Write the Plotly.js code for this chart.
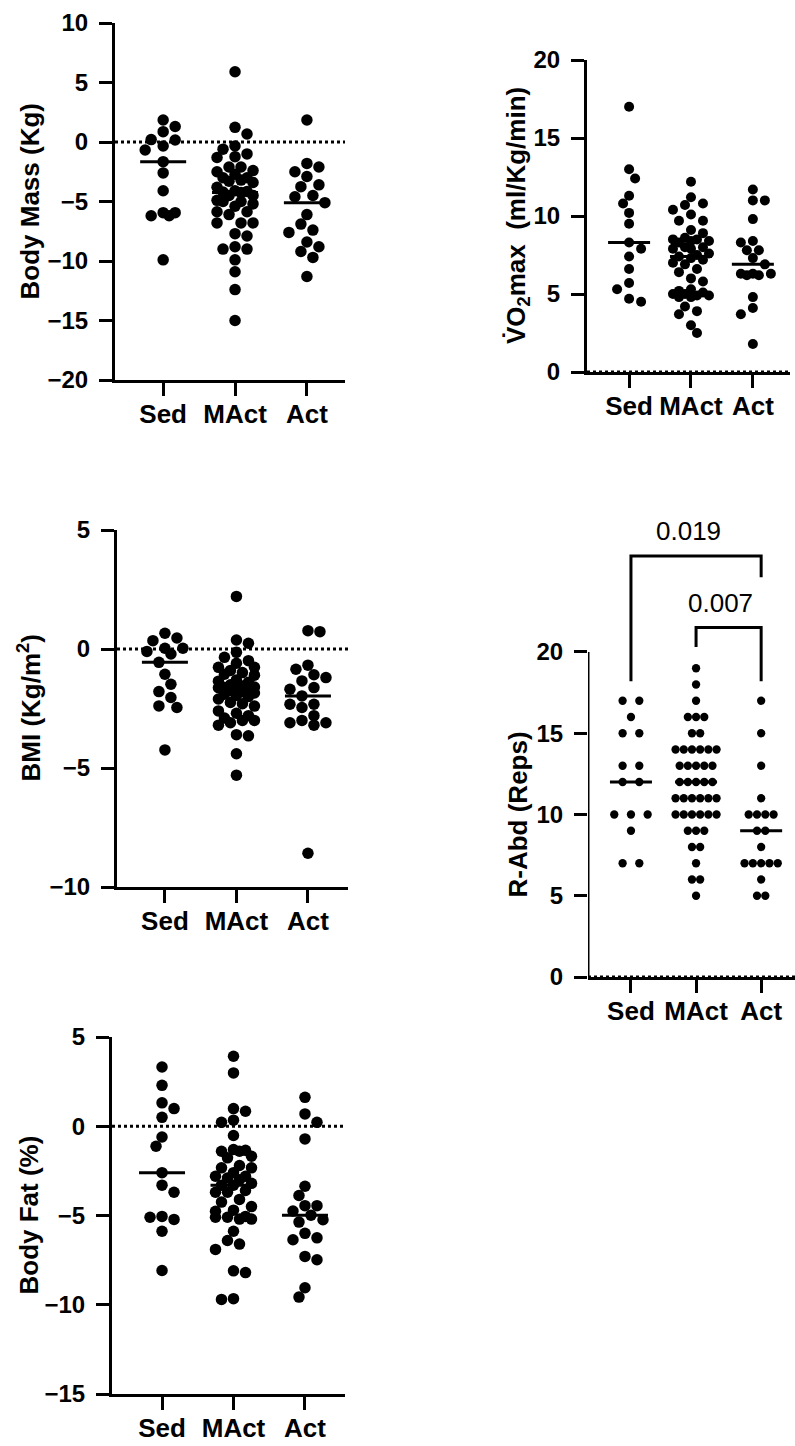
<!DOCTYPE html>
<html><head><meta charset="utf-8">
<script src="https://cdn.plot.ly/plotly-3.0.1.min.js"></script>
<style>html,body{margin:0;padding:0;background:#fff}</style>
</head><body><div id="chart" style="width:795px;height:1446px"></div>
<script>
// ---------- data ----------
const categories = ['Sed', 'MAct', 'Act'];

const bodyMassSed  = [1.85, 1.3, 0.87, 0.2, 0.17, -0.34, -0.67, -1.65, -2.6, -4.1, -5.94, -6.2, -5.94, -6.2, -9.9];
const bodyMassMAct = [5.9, 1.23, 0.67, -0.34, -0.6, -1.0, -1.23, -1.3, -2.1, -2.1, -2.4, -2.5, -2.7, -3.0, -3.0,
                      -3.2, -3.3, -3.4, -3.8, -4.1, -4.15, -4.2, -4.25, -4.5, -4.5, -4.9, -5.0, -5.0, -5.2, -5.4,
                      -5.86, -5.86, -6.1, -6.8, -6.8, -6.8, -7.7, -7.9, -8.8, -9.0, -9.0, -9.9, -10.9, -12.4, -15.0];
const bodyMassAct  = [1.85, -1.8, -2.1, -2.5, -2.9, -3.6, -3.75, -4.5, -4.6, -5.1, -6.1, -6.9, -7.4, -7.6, -8.4, -8.8, -9.2, -9.7, -11.3];

const vo2Sed  = [17.0, 13.0, 12.4, 11.3, 10.8, 10.2, 9.5, 8.3, 7.9, 7.4, 6.6, 5.7, 5.3, 4.7, 4.5];
const vo2MAct = [12.2, 11.2, 10.8, 10.7, 10.4, 10.1, 9.7, 9.7, 9.1, 8.9, 8.6, 8.5, 8.5, 8.4, 8.4,
                 8.3, 8.0, 8.0, 7.9, 7.9, 7.6, 7.5, 7.4, 7.3, 7.2, 7.0, 6.9, 6.6, 6.4, 6.0,
                 5.8, 5.3, 5.2, 5.1, 5.0, 5.0, 4.9, 4.9, 4.8, 4.8, 4.2, 3.9, 3.7, 3.0, 2.5];
const vo2Act  = [11.7, 11.0, 11.0, 9.8, 8.4, 8.3, 7.8, 7.8, 7.3, 6.9, 6.3, 6.3, 6.3, 6.2, 6.2, 4.8, 4.1, 3.7, 1.8];

const bmiSed  = [0.66, 0.46, 0.35, 0.03, 0.03, -0.1, -0.21, -0.56, -1.06, -1.48, -1.79, -2.04, -2.39, -2.46, -4.24];
const bmiMAct = [2.21, 0.38, 0.24, -0.14, -0.35, -0.49, -0.6, -0.77, -0.77, -0.9, -0.99, -1.06, -1.1, -1.3, -1.35,
                 -1.4, -1.5, -1.55, -1.6, -1.62, -1.62, -1.63, -1.64, -1.75, -1.8, -1.85, -1.9, -1.95, -2.0, -2.1,
                 -2.25, -2.3, -2.4, -2.6, -2.7, -2.8, -2.9, -3.0, -3.0, -3.1, -3.2, -3.6, -3.65, -4.4, -5.3];
const bmiAct  = [0.77, 0.73, -0.68, -0.85, -1.08, -1.2, -1.34, -1.62, -1.69, -1.97, -2.32, -2.32, -2.46, -2.8, -3.0, -3.1, -3.1, -3.2, -8.58];

const rabdSed  = [17, 17, 16, 15, 15, 13, 13, 12, 12, 10, 10, 10, 9, 7, 7];
const rabdMAct = [19, 18, 17, 16, 16, 16, 15, 15, 14, 14, 14, 14, 14, 14, 13, 13, 13, 13, 13,
                  12, 12, 12, 12, 12, 11, 11, 11, 11, 11, 11, 10, 10, 10, 10, 10, 10, 9, 9, 9, 8, 8, 7, 6, 6, 5];
const rabdAct  = [17, 15, 13, 11, 10, 10, 10, 10, 9, 9, 8, 7, 7, 7, 7, 7, 6, 5, 5];

const fatSed  = [3.32, 2.29, 1.31, 0.99, 0.5, -0.6, -1.12, -2.6, -3.3, -3.7, -5.1, -5.05, -5.22, -5.88, -8.08];
const fatMAct = [3.92, 2.99, 0.99, 0.84, 0.34, 0.22, -0.52, -1.3, -1.35, -1.4, -1.4, -1.68, -1.77, -2.2, -2.33,
                 -2.33, -2.6, -2.8, -2.8, -2.9, -3.0, -3.2, -3.3, -3.3, -3.6, -3.7, -3.7, -4.1, -4.25, -4.5,
                 -4.7, -4.76, -5.05, -5.1, -5.1, -5.2, -5.2, -5.88, -6.4, -6.6, -6.9, -8.1, -8.2, -9.66, -9.7];
const fatAct  = [1.62, 0.69, 0.22, -0.71, -3.36, -3.88, -4.45, -4.45, -4.75, -4.98, -5.24, -5.37, -6.0, -6.25, -6.36, -7.29, -7.48, -9.05, -9.57];

// significance comparisons for R-Abd (group index a vs b, p label, bracket levels in data units)
const rabdComparisons = [
  {a: 0, b: 2, p: '0.019', top: 25.9, legA: 18.2, legB: 24.6},
  {a: 1, b: 2, p: '0.007', top: 21.5, legA: 20.3, legB: 18.2}
];

// ---------- layout helpers ----------
const W = 795, H = 1446;
const FONT = 'Arial, "Liberation Sans", Helvetica, sans-serif';

const panels = [
  {data: [bodyMassSed, bodyMassMAct, bodyMassAct], box: {l: 115, r: 345, t: 23, b: 380}, yr: [-20, 10], xr: [0.33, 3.53],
   ticks: [-20, -15, -10, -5, 0, 5, 10], title: 'Body Mass (Kg)', titleX: 30, size: 11.5, mode: 'swarm', hw: 23, axisTop: 10},
  {data: [vo2Sed, vo2MAct, vo2Act], box: {l: 587, r: 790, t: 60, b: 372}, yr: [0, 20], xr: [0.32, 3.6],
   ticks: [0, 5, 10, 15, 20], title: 'V\u0307O<sub>2</sub>max\u00a0\u00a0(ml/Kg/min)', titleX: 517, size: 10, mode: 'swarm', hw: 21, axisTop: 20},
  {data: [bmiSed, bmiMAct, bmiAct], box: {l: 117, r: 348, t: 530, b: 887}, yr: [-10, 5], xr: [0.33, 3.56],
   ticks: [-10, -5, 0, 5], title: 'BMI (Kg/m<sup>2</sup>)', titleX: 30, size: 11.5, mode: 'swarm', hw: 23, axisTop: 5},
  {data: [rabdSed, rabdMAct, rabdAct], box: {l: 588, r: 795, t: 515, b: 977}, yr: [0, 28.43], xr: [0.34, 3.52],
   ticks: [0, 5, 10, 15, 20], title: 'R-Abd (Reps)', titleX: 518, size: 8.3, mode: 'rows', rowSpacing: [16.7, 8.2, 8.3], hw: 21, axisTop: 20},
  {data: [fatSed, fatMAct, fatAct], box: {l: 112, r: 345, t: 1037, b: 1394}, yr: [-15, 5], xr: [0.30, 3.56],
   ticks: [-15, -10, -5, 0, 5], title: 'Body Fat (%)', titleX: 28, size: 11.5, mode: 'swarm', hw: 23, axisTop: 5}
];

function median(arr) {
  const s = arr.slice().sort((a, b) => a - b);
  const n = s.length;
  return n % 2 ? s[(n - 1) / 2] : (s[n / 2 - 1] + s[n / 2]) / 2;
}

// beeswarm placement in pixel space -> returns x offsets (px)
function swarm(vals, pxY, D, step, maxHalf) {
  const order = vals.map((v, i) => i).sort((a, b) => vals[b] - vals[a]);
  const placed = [];
  const off = new Array(vals.length).fill(0);
  const kmax = Math.floor(maxHalf / step + 1e-6);
  let toggle = 1;
  for (const i of order) {
    const py = vals[i] * pxY;
    let best = 0, bestScore = -Infinity, found = false;
    for (let k = 0; k <= kmax && !found; k++) {
      const cands = k === 0 ? [0] : [toggle * k * step, -toggle * k * step];
      let localBest = null, localScore = -Infinity;
      for (const ox of cands) {
        let minD = Infinity;
        for (const p of placed) {
          const d = Math.hypot(p.x - ox, p.y - py);
          if (d < minD) minD = d;
        }
        if (minD >= D && minD > localScore) { localScore = minD; localBest = ox; }
        if (minD > bestScore) { bestScore = minD; best = ox; }
      }
      if (localBest !== null) { best = localBest; found = true; }
    }
    if (best !== 0) toggle = -Math.sign(best);
    placed.push({x: best, y: py});
    off[i] = best;
  }
  return off;
}

// rows of identical values, centered
function rows(vals, spacing) {
  const groups = {};
  vals.forEach((v, i) => { (groups[v] = groups[v] || []).push(i); });
  const off = new Array(vals.length).fill(0);
  Object.values(groups).forEach(idx => {
    const n = idx.length;
    idx.forEach((i, j) => { off[i] = (j - (n - 1) / 2) * spacing; });
  });
  return off;
}

const traces = [];
const layout = {
  width: W, height: H, margin: {l: 0, r: 0, t: 0, b: 0},
  showlegend: false, paper_bgcolor: '#ffffff', plot_bgcolor: 'rgba(0,0,0,0)',
  font: {family: FONT, color: '#000'},
  shapes: [], annotations: []
};

panels.forEach((p, k) => {
  const n = k + 1;
  const xa = 'xaxis' + (n === 1 ? '' : n), ya = 'yaxis' + (n === 1 ? '' : n);
  const xr = 'x' + (n === 1 ? '' : n), yr = 'y' + (n === 1 ? '' : n);
  const pxX = (p.box.r - p.box.l) / (p.xr[1] - p.xr[0]);
  const pxY = (p.box.b - p.box.t) / (p.yr[1] - p.yr[0]);
  const isR = p.mode === 'rows';

  layout[xa] = {
    domain: [p.box.l / W, p.box.r / W], anchor: yr, range: p.xr,
    tickvals: [1, 2, 3], ticktext: categories, ticks: 'outside', ticklen: 13, tickwidth: 3, tickcolor: '#000',
    showline: true, linewidth: 3, linecolor: '#000', showgrid: false, zeroline: false,
    tickfont: {family: FONT, size: 26, color: '#000', weight: 'bold'}, ticklabelstandoff: -4, fixedrange: true
  };
  layout[ya] = {
    domain: [1 - p.box.b / H, 1 - p.box.t / H], anchor: xr, range: p.yr,
    tickvals: p.ticks, ticks: 'outside', ticklen: 13, tickwidth: 3, tickcolor: '#000',
    showline: !isR, linewidth: 3, linecolor: '#000', showgrid: false, zeroline: false,
    tickfont: {family: FONT, size: 24, color: '#000', weight: 'bold'}, ticklabelstandoff: 6, fixedrange: true
  };
  if (isR) {
    layout.shapes.push({type: 'line', xref: xr, yref: yr, x0: p.xr[0], x1: p.xr[0], y0: 0, y1: p.axisTop,
      line: {color: '#000', width: 3}});
  }

  // dotted zero line
  layout.shapes.push({type: 'line', xref: xr, yref: yr, x0: p.xr[0], x1: p.xr[1], y0: 0, y1: 0,
    line: {color: '#000', width: 3, dash: 'dot'}, layer: 'below'});

  const medX = [], medY = [];
  p.data.forEach((vals, g) => {
    const off = isR ? rows(vals, p.rowSpacing[g]) : swarm(vals, pxY, p.size * 0.95, 6, 19);
    traces.push({
      type: 'scatter', mode: 'markers', xaxis: xr, yaxis: yr,
      x: off.map(o => g + 1 + o / pxX), y: vals,
      marker: {size: p.size, color: '#000', line: {width: 0}},
      cliponaxis: false, hoverinfo: 'skip'
    });
    const m = median(vals);
    medX.push(g + 1 - p.hw / pxX, g + 1 + p.hw / pxX, null);
    medY.push(m, m, null);
  });
  traces.push({type: 'scatter', mode: 'lines', xaxis: xr, yaxis: yr, x: medX, y: medY,
    line: {color: '#000', width: 3}, hoverinfo: 'skip', cliponaxis: false});

  // y-axis title centred on axis
  const yMid = (p.yr[0] + Math.min(p.axisTop, p.yr[1])) / 2;
  const midPx = p.box.b - (yMid - p.yr[0]) * pxY;
  layout.annotations.push({
    xref: 'paper', yref: 'paper', x: p.titleX / W, y: 1 - midPx / H, xanchor: 'center', yanchor: 'middle',
    text: p.title, textangle: -90, showarrow: false,
    font: {family: FONT, size: 26, color: '#000', weight: 'bold'}
  });

  if (isR) {
    rabdComparisons.forEach(c => {
      const xa1 = c.a + 1, xb1 = c.b + 1;
      layout.shapes.push({type: 'path', xref: xr, yref: yr,
        path: `M${xa1},${c.legA} L${xa1},${c.top} L${xb1},${c.top} L${xb1},${c.legB}`,
        line: {color: '#000', width: 3}});
      layout.annotations.push({xref: xr, yref: yr, x: (xa1 + xb1) / 2, y: c.top, xanchor: 'center', yanchor: 'bottom',
        xshift: -8, yshift: 8, text: c.p, showarrow: false, font: {family: FONT, size: 26, color: '#000'}});
    });
  }
});

Plotly.newPlot('chart', traces, layout, {staticPlot: true, displayModeBar: false});
</script></body></html>
